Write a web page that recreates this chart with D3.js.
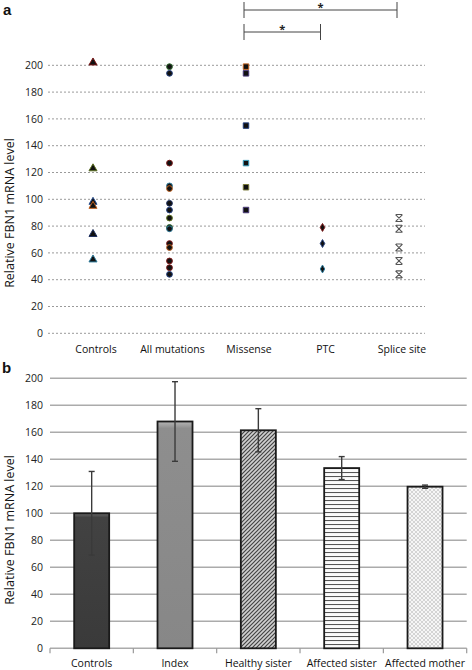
<!DOCTYPE html>
<html><head><meta charset="utf-8">
<script src="https://cdn.jsdelivr.net/npm/d3@7"></script>
<style>
html,body{margin:0;padding:0;background:#fff;}
svg{display:block;font-family:"Open Sans",sans-serif;}
</style></head>
<body>
<svg id="c" width="472" height="670"></svg>
<script>
// ---------- Panel a data ----------
const catsA = ["Controls", "All mutations", "Missense", "PTC", "Splice site"];
const controlsVals = [202, 123, 98, 95, 74, 55];
const allMutVals = [199, 194, 127, 110, 108, 97, 92, 86, 79, 78, 67, 64, 54, 49, 44];
const missenseVals = [199, 194, 155, 127, 109, 92];
const ptcVals = [79, 67, 48];
const spliceVals = [86, 78, 64, 54, 44];
const yTicksA = [0, 20, 40, 60, 80, 100, 120, 140, 160, 180, 200];
const sigPairs = [["Missense", "Splice site", "*"], ["Missense", "PTC", "*"]];

// edge colours of markers (style)
const controlsEdge = ["#7a1515", "#5a6e1e", "#2a4f8f", "#c0601e", "#1d2f5f", "#2d7a9a"];
const allMutEdge = ["#2e6a2e", "#23407f", "#7a1515", "#2d7a9a", "#c0601e", "#1d2f5f", "#23407f", "#5a6e1e", "#2e6a2e", "#2d7a9a", "#7a1515", "#c0601e", "#7a1515", "#7a1515", "#23407f"];
const missenseEdge = ["#c0601e", "#4a3a7a", "#23407f", "#3aa0c0", "#7a7a3a", "#4a3a7a"];
const ptcEdge = ["#7a1515", "#23407f", "#2d7a9a"];

// ---------- Panel b data ----------
const catsB = ["Controls", "Index", "Healthy sister", "Affected sister", "Affected mother"];
const barVals = [100, 168, 161.5, 133.5, 119.7];
const barErr = [31, 29.5, 16, 8.5, 1.2];
const yTicksB = [0, 20, 40, 60, 80, 100, 120, 140, 160, 180, 200];

const svg = d3.select("#c");
const defs = svg.append("defs");

// ===== Panel a =====
const yA = d3.scaleLinear().domain([0, 200]).range([333.3, 65.3]);
const xA = d3.scalePoint().domain(catsA).range([93, 399]);
const gA = svg.append("g");

gA.append("text").attr("x", 3).attr("y", 15).text("a")
  .attr("font-family", "Liberation Sans, Arial, sans-serif")
  .attr("font-weight", "bold").attr("font-size", 15).attr("fill", "#111");

gA.selectAll("line.grid").data(yTicksA).join("line")
  .attr("x1", 48).attr("x2", 425)
  .attr("y1", d => yA(d)).attr("y2", d => yA(d))
  .attr("stroke", "#9a9a9a").attr("stroke-width", 1).attr("stroke-dasharray", "2,2");

gA.selectAll("text.yt").data(yTicksA).join("text")
  .attr("x", 43).attr("y", d => yA(d)).attr("dy", "0.35em")
  .attr("text-anchor", "end").attr("font-size", 10.5).attr("fill", "#222")
  .text(d => d);

gA.selectAll("text.xt").data(catsA).join("text")
  .attr("x", d => xA(d) + 3).attr("y", 353)
  .attr("text-anchor", "middle").attr("font-size", 10.5).attr("fill", "#111")
  .text(d => d);

gA.append("text").attr("transform", "translate(14,213) rotate(-90)")
  .attr("text-anchor", "middle").attr("font-size", 12.5).attr("fill", "#111")
  .text("Relative FBN1 mRNA level");

// significance brackets
const bracketY = [10, 32];
sigPairs.forEach((p, i) => {
  const x1 = xA(p[0]) - 2, x2 = xA(p[1]) - 2, y = bracketY[i];
  const g = gA.append("g").attr("stroke", "#444").attr("stroke-width", 1);
  g.append("line").attr("x1", x1).attr("x2", x2).attr("y1", y).attr("y2", y);
  g.append("line").attr("x1", x1).attr("x2", x1).attr("y1", y - 8).attr("y2", y + 8);
  g.append("line").attr("x1", x2).attr("x2", x2).attr("y1", y - 8).attr("y2", y + 8);
  gA.append("text").attr("x", (x1 + x2) / 2).attr("y", y + 1)
    .attr("text-anchor", "middle").attr("font-size", 11).attr("font-weight", "bold")
    .attr("fill", "#222").text(p[2]);
});

function markers(vals, edges, cat, sym, size) {
  gA.append("g").selectAll("path").data(vals).join("path")
    .attr("transform", d => `translate(${xA(cat)},${yA(d)})`)
    .attr("d", d3.symbol().type(sym).size(size))
    .attr("fill", "#111")
    .attr("stroke", (d, i) => edges[i]).attr("stroke-width", 1);
}
markers(controlsVals, controlsEdge, "Controls", d3.symbolTriangle, 28);
markers(allMutVals, allMutEdge, "All mutations", d3.symbolCircle, 26);
markers(missenseVals, missenseEdge, "Missense", d3.symbolSquare, 30);
markers(ptcVals, ptcEdge, "PTC", d3.symbolDiamond, 18);

// splice site star markers
const star = gA.append("g").selectAll("g").data(spliceVals).join("g")
  .attr("transform", d => `translate(${xA("Splice site")},${yA(d)})`)
  .attr("stroke", "#555").attr("stroke-width", 1.1).attr("fill", "none");
star.append("path").attr("d", "M-3.5,-3.5L3.5,3.5M-3.5,3.5L3.5,-3.5M-3,-3.5H3M-3,3.5H3");

// ===== Panel b =====
const yB = d3.scaleLinear().domain([0, 200]).range([648.3, 378.3]);
const xB = d3.scaleBand().domain(catsB).range([50, 466.7]).paddingInner(0.58).paddingOuter(0.29);
const gB = svg.append("g");

gB.append("text").attr("x", 2).attr("y", 373).text("b")
  .attr("font-family", "Liberation Sans, Arial, sans-serif")
  .attr("font-weight", "bold").attr("font-size", 15).attr("fill", "#111");

gB.selectAll("line.grid").data(yTicksB).join("line")
  .attr("x1", 50).attr("x2", 466.7)
  .attr("y1", d => yB(d)).attr("y2", d => yB(d))
  .attr("stroke", "#ababab").attr("stroke-width", 1.5);

gB.selectAll("text.yt").data(yTicksB).join("text")
  .attr("x", 43).attr("y", d => yB(d)).attr("dy", "0.35em")
  .attr("text-anchor", "end").attr("font-size", 10.5).attr("fill", "#222")
  .text(d => d);

// category ticks on axis
const step = xB.step();
const tickXs = d3.range(catsB.length + 1).map(i => 50 + i * step);
gB.selectAll("line.ct").data(tickXs).join("line")
  .attr("x1", d => d).attr("x2", d => d).attr("y1", yB(0)).attr("y2", yB(0) + 5)
  .attr("stroke", "#999").attr("stroke-width", 1.2);

gB.selectAll("text.xt").data(catsB).join("text")
  .attr("x", d => xB(d) + xB.bandwidth() / 2).attr("y", 667)
  .attr("text-anchor", "middle").attr("font-size", 10.5).attr("fill", "#111")
  .text(d => d);

gB.append("text").attr("transform", "translate(14,530) rotate(-90)")
  .attr("text-anchor", "middle").attr("font-size", 12.5).attr("fill", "#111")
  .text("Relative FBN1 mRNA level");

// patterns
const pDiag = defs.append("pattern").attr("id", "diag").attr("patternUnits", "userSpaceOnUse")
  .attr("width", 4).attr("height", 4);
pDiag.append("rect").attr("width", 4).attr("height", 4).attr("fill", "#d0d0d0");
pDiag.append("path").attr("d", "M-1,5L5,-1M-1,1L1,-1M3,5L5,3").attr("stroke", "#444").attr("stroke-width", 1.2);

const pHor = defs.append("pattern").attr("id", "hor").attr("patternUnits", "userSpaceOnUse")
  .attr("width", 6).attr("height", 4);
pHor.append("rect").attr("width", 6).attr("height", 4).attr("fill", "#fafafa");
pHor.append("line").attr("x1", 0).attr("x2", 6).attr("y1", 0.5).attr("y2", 0.5).attr("stroke", "#555").attr("stroke-width", 1.1);

const pDot = defs.append("pattern").attr("id", "dots").attr("patternUnits", "userSpaceOnUse")
  .attr("width", 4).attr("height", 4);
pDot.append("rect").attr("width", 4).attr("height", 4).attr("fill", "#f6f6f6");
pDot.append("path").attr("d", "M0,0L4,4M4,0L0,4").attr("stroke", "#c6c6c6").attr("stroke-width", 0.7);

const gradC = defs.append("linearGradient").attr("id", "gc").attr("x1", 0).attr("x2", 0).attr("y1", 0).attr("y2", 1);
gradC.append("stop").attr("offset", "0").attr("stop-color", "#6a6a6a");
gradC.append("stop").attr("offset", "0.03").attr("stop-color", "#424242");
gradC.append("stop").attr("offset", "1").attr("stop-color", "#3a3a3a");
const gradI = defs.append("linearGradient").attr("id", "gi").attr("x1", 0).attr("x2", 0).attr("y1", 0).attr("y2", 1);
gradI.append("stop").attr("offset", "0").attr("stop-color", "#b5b5b5");
gradI.append("stop").attr("offset", "0.03").attr("stop-color", "#8e8e8e");
gradI.append("stop").attr("offset", "1").attr("stop-color", "#878787");

const fills = ["url(#gc)", "url(#gi)", "url(#diag)", "url(#hor)", "url(#dots)"];

gB.selectAll("rect.bar").data(barVals).join("rect")
  .attr("x", (d, i) => xB(catsB[i]))
  .attr("y", d => yB(d))
  .attr("width", xB.bandwidth())
  .attr("height", d => yB(0) - yB(d))
  .attr("fill", (d, i) => fills[i])
  .attr("stroke", "#1a1a1a").attr("stroke-width", 1.8);

// error bars
const eb = gB.append("g").attr("stroke", "#3a3a3a").attr("stroke-width", 1.4);
barVals.forEach((v, i) => {
  const cx = xB(catsB[i]) + xB.bandwidth() / 2;
  const e = barErr[i];
  eb.append("line").attr("x1", cx).attr("x2", cx).attr("y1", yB(v + e)).attr("y2", yB(v - e));
  eb.append("line").attr("x1", cx - 3).attr("x2", cx + 3).attr("y1", yB(v + e)).attr("y2", yB(v + e));
  eb.append("line").attr("x1", cx - 3).attr("x2", cx + 3).attr("y1", yB(v - e)).attr("y2", yB(v - e));
});
</script>
</body></html>
